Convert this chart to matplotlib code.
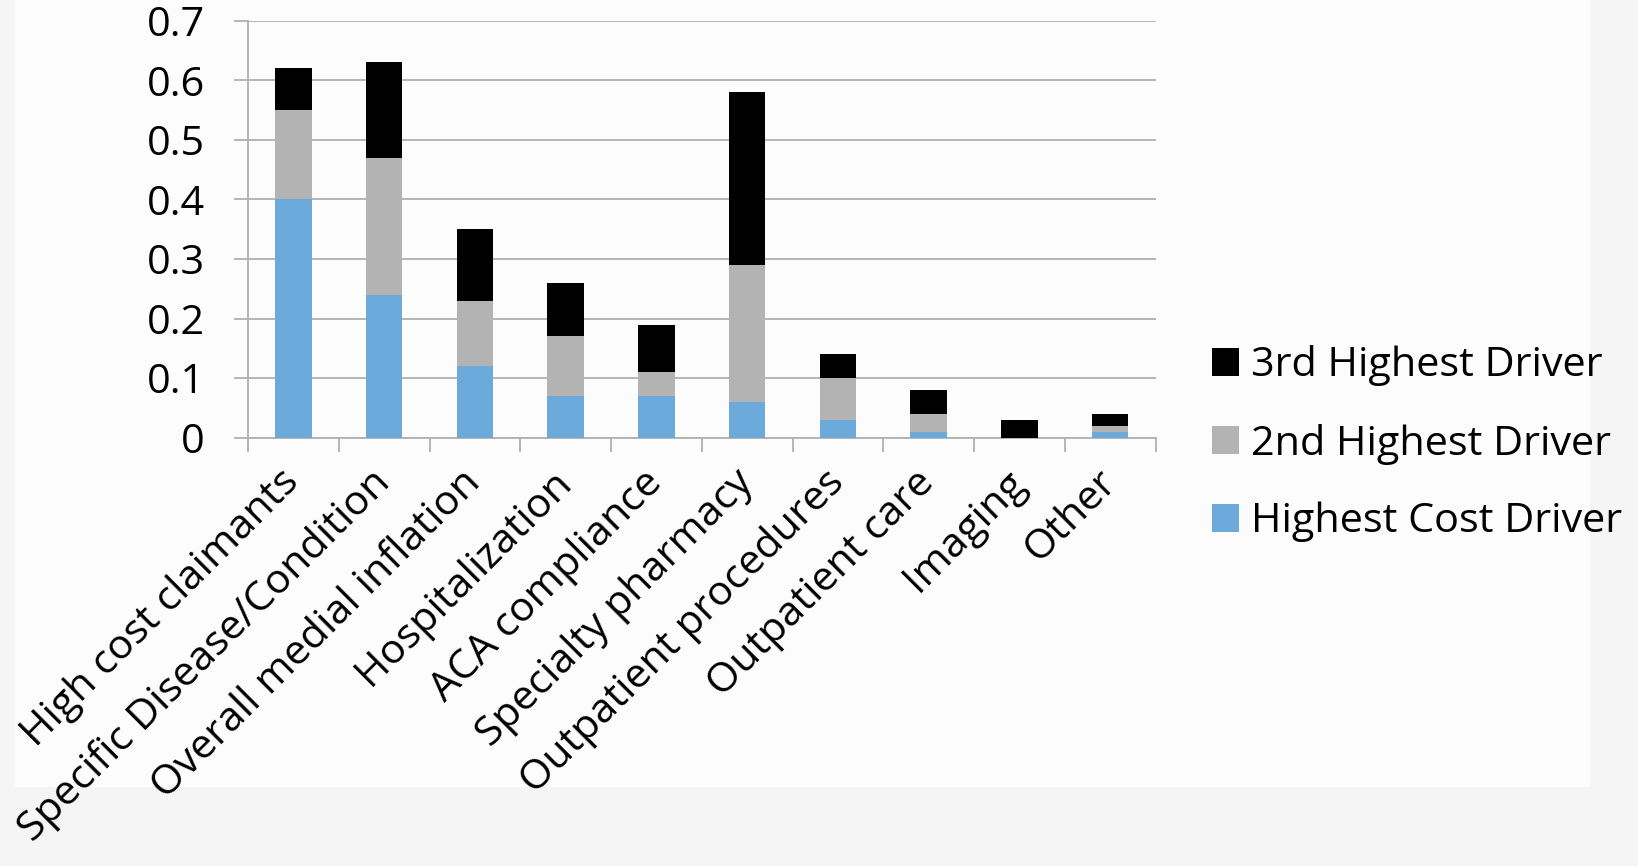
import matplotlib
matplotlib.use("Agg")
import matplotlib.pyplot as plt
from matplotlib.patches import Rectangle
import numpy as np

categories = ["High cost claimants", "Specific Disease/Condition", "Overall medial inflation",
              "Hospitalization", "ACA compliance", "Specialty pharmacy",
              "Outpatient procedures", "Outpatient care", "Imaging", "Other"]
highest = [0.40, 0.24, 0.12, 0.07, 0.07, 0.06, 0.03, 0.01, 0.00, 0.01]
second = [0.15, 0.23, 0.11, 0.10, 0.04, 0.23, 0.07, 0.03, 0.00, 0.01]
third = [0.07, 0.16, 0.12, 0.09, 0.08, 0.29, 0.04, 0.04, 0.03, 0.02]
y_ticks = [0, 0.1, 0.2, 0.3, 0.4, 0.5, 0.6, 0.7]
y_labels = ["0", "0.1", "0.2", "0.3", "0.4", "0.5", "0.6", "0.7"]

plt.rcParams["font.family"] = ["Open Sans", "DejaVu Sans"]
FS = 29.8
GRID = "#b0b0b0"

fig = plt.figure(figsize=(16.38, 8.66), dpi=100, facecolor="#f5f5f5")
# lighter chart-area panel like the slide background
fig.patches.append(Rectangle((15 / 1638, 1 - 787 / 866), (1590 - 15) / 1638, 787 / 866,
                             transform=fig.transFigure, facecolor="#fcfcfc",
                             edgecolor="none", zorder=-10))

ax = fig.add_axes([248 / 1638, 1 - 437.7 / 866, (1155.5 - 248) / 1638, (437.7 - 20.7) / 866])
ax.set_facecolor("none")

x = np.arange(len(categories))
w = 0.4
h1 = np.array(highest); h2 = np.array(second); h3 = np.array(third)
b1 = ax.bar(x, h1, w, color="#6caadc", label="Highest Cost Driver", zorder=3)
b2 = ax.bar(x, h2, w, bottom=h1, color="#b3b3b3", label="2nd Highest Driver", zorder=3)
b3 = ax.bar(x, h3, w, bottom=h1 + h2, color="#000000", label="3rd Highest Driver", zorder=3)

ax.set_xlim(-0.5, len(categories) - 0.5)
ax.set_ylim(0, 0.7)
ax.set_yticks(y_ticks)
ax.set_yticklabels(y_labels, fontsize=FS)
ax.yaxis.grid(True, color=GRID, linewidth=1.3, zorder=0)
ax.set_axisbelow(True)

ax.set_xticks(x)
ax.set_xticklabels(categories, fontsize=FS, rotation=45, ha="right", va="center",
                   rotation_mode="anchor")
ax.set_xticks(np.arange(-0.5, len(categories)), minor=True)
ax.tick_params(axis="x", which="major", length=0, pad=28)
ax.tick_params(axis="x", which="minor", length=10, width=1.3, color=GRID)
ax.tick_params(axis="y", length=10, width=1.3, color=GRID, pad=21)

for s in ["top", "right"]:
    ax.spines[s].set_visible(False)
for s in ["left", "bottom"]:
    ax.spines[s].set_color(GRID)
    ax.spines[s].set_linewidth(1.3)

ax.legend(handles=[b3, b2, b1], loc="center left", bbox_to_anchor=(1212 / 1638, 1 - 444 / 866),
          bbox_transform=fig.transFigure, frameon=False, fontsize=FS, borderpad=0,
          borderaxespad=0, handlelength=0.65, handleheight=0.65, handletextpad=0.3,
          labelspacing=0.9)

fig.savefig("out.png", dpi=100, facecolor=fig.get_facecolor())
